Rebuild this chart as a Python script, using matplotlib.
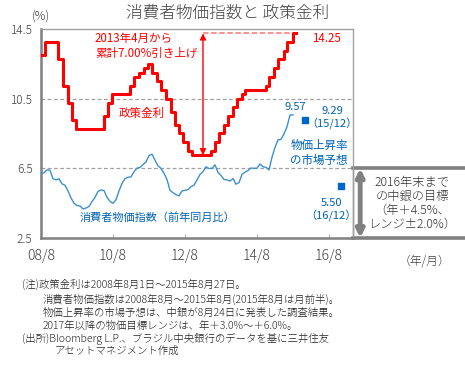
import matplotlib
matplotlib.use("Agg")
import matplotlib.pyplot as plt

plt.rcParams['font.family'] = ['Noto Sans CJK JP', 'DejaVu Sans']

# Brazil policy rate (Selic): change dates and levels
rate_dates = [(2008, 8, 1), (2008, 9, 10), (2009, 1, 21), (2009, 3, 11), (2009, 4, 29),
              (2009, 6, 10), (2009, 7, 22), (2010, 4, 28), (2010, 6, 9), (2010, 7, 21),
              (2011, 1, 19), (2011, 3, 2), (2011, 4, 20), (2011, 6, 8), (2011, 7, 20),
              (2011, 8, 31), (2011, 10, 19), (2011, 11, 30), (2012, 1, 18), (2012, 3, 7),
              (2012, 4, 18), (2012, 5, 30), (2012, 7, 11), (2012, 8, 29), (2012, 10, 10),
              (2013, 4, 17), (2013, 5, 29), (2013, 7, 10), (2013, 8, 28), (2013, 10, 9),
              (2013, 11, 27), (2014, 1, 15), (2014, 2, 26), (2014, 4, 2), (2014, 10, 29),
              (2014, 12, 3), (2015, 1, 21), (2015, 3, 4), (2015, 4, 29), (2015, 6, 3),
              (2015, 7, 29), (2015, 8, 27)]
rate_vals = [13.00, 13.75, 12.75, 11.25, 10.25, 9.25, 8.75, 9.50, 10.25, 10.75,
             11.25, 11.75, 12.00, 12.25, 12.50, 12.00, 11.50, 11.00, 10.50, 9.75,
             9.00, 8.50, 8.00, 7.50, 7.25, 7.50, 8.00, 8.50, 9.00, 9.50,
             10.00, 10.50, 10.75, 11.00, 11.25, 11.75, 12.25, 12.75, 13.25, 13.75,
             14.25, 14.25]

# CPI (IPCA, yoy %) monthly from 2008/8 to 2015/8
cpi_vals = [6.17, 6.25, 6.41, 6.39, 5.90,
            5.84, 5.90, 5.61, 5.53, 5.20, 4.80, 4.50, 4.36, 4.34, 4.17, 4.22, 4.31,
            4.59, 4.83, 5.17, 5.26, 5.22, 4.84, 4.60, 4.49, 4.70, 5.20, 5.63, 5.91,
            5.99, 6.01, 6.30, 6.51, 6.55, 6.71, 6.87, 7.23, 7.31, 6.97, 6.64, 6.50,
            6.22, 5.85, 5.24, 5.10, 4.99, 4.92, 5.20, 5.24, 5.28, 5.45, 5.53, 5.84,
            6.15, 6.31, 6.59, 6.49, 6.50, 6.70, 6.27, 6.09, 5.86, 5.84, 5.77, 5.91,
            5.59, 5.68, 6.15, 6.28, 6.37, 6.52, 6.50, 6.51, 6.75, 6.59, 6.56, 6.41,
            7.14, 7.70, 8.13, 8.17, 8.47, 8.89, 9.56, 9.57]

# market forecasts
fc_dates = [(2015, 12, 1), (2016, 12, 1)]
fc_vals = [9.29, 5.50]

x_ticks = [(2008, 8, 1), (2010, 8, 1), (2012, 8, 1), (2014, 8, 1), (2016, 8, 1)]
x_labels = ['08/8', '10/8', '12/8', '14/8', '16/8']
y_ticks = [2.5, 6.5, 10.5, 14.5]

target_lo, target_hi = 2.5, 6.5
hike_from, hike_to = 7.25, 14.25


def mon(d):
    y, m, dd = d
    return (y - 2008) * 12 + (m - 8) + (dd - 1) / 30.0


W, H = 465, 365
fig = plt.figure(figsize=(W / 100, H / 100), dpi=100)
ax = fig.add_axes([41 / W, 1 - 238 / H, 312 / W, 209 / H])

red = '#ff0000'
blue = '#0062b4'
gray = '#808080'
txt = '#404040'
lt = 'light'

rx = [mon(d) for d in rate_dates]
ax.step(rx, rate_vals, where='post', color=red, lw=2.2, zorder=4)

cx = list(range(len(cpi_vals)))
ax.plot(cx, cpi_vals, color='#3d8fd0', lw=1.0, zorder=3)

fx = [mon(d) for d in fc_dates]
ax.scatter(fx, fc_vals, marker='s', s=22, color='#0066cc', zorder=5)

ax.set_xlim(0, 104)
ax.set_ylim(2.5, 14.5)
ax.set_xticks([mon(d) for d in x_ticks])
ax.set_xticklabels(x_labels, fontweight=lt)
ax.set_yticks(y_ticks)
ax.set_yticklabels([str(v) for v in y_ticks], fontweight=lt)
ax.tick_params(axis='x', direction='in', length=3, color='#aaaaaa', labelsize=10,
               labelcolor=txt, pad=8)
ax.tick_params(axis='y', length=0, labelsize=8.5, labelcolor=txt, pad=6)

for yv in [6.5, 10.5]:
    ax.axhline(yv, color='#a0a0a0', lw=0.9, ls=(0, (3, 2)), zorder=1)

for s in ['left', 'bottom']:
    ax.spines[s].set_color(gray)
    ax.spines[s].set_linewidth(1.8)
for s in ['top', 'right']:
    ax.spines[s].set_color('#a0a0a0')
    ax.spines[s].set_linewidth(1.0)
    ax.spines[s].set_linestyle((0, (1, 1)))

# cumulative hike arrow and dashed level
arrow_x = 54
ax.plot([arrow_x, rx[-1]], [hike_to, hike_to], color='#ff8888', lw=1.3,
        ls=(0, (3, 1.5)), zorder=3)
ax.annotate('', xy=(arrow_x, hike_to), xytext=(arrow_x, hike_from),
            arrowprops=dict(arrowstyle='<|-|>', color=red, lw=1.0,
                            mutation_scale=9, shrinkA=0, shrinkB=0), zorder=5)

# target band outside the plot
xr = 141.5
for yv in [target_lo, target_hi]:
    ax.plot([104, xr], [yv, yv], color=gray, lw=2.6, clip_on=False, zorder=2)
ax.plot([104, 104], [target_lo, target_hi], color=gray, lw=1.0, clip_on=False)
ax.annotate('', xy=(106.4, target_hi), xytext=(106.4, target_lo),
            arrowprops=dict(arrowstyle='<|-|>', color=gray, lw=3.5,
                            mutation_scale=11, shrinkA=0, shrinkB=0),
            annotation_clip=False)
fig.text(412 / W, 1 - 203 / H, '2016年末まで\nの中銀の目標\n（年＋4.5%、\nレンジ±2.0%）',
         ha='center', va='center', fontsize=8.8, color='#333333', linespacing=1.1,
         fontweight=lt)

# labels
fig.text(228 / W, 1 - 13 / H, '消費者物価指数と 政策金利', ha='center', va='center',
         fontsize=12, color=txt, fontweight=lt)
fig.text(41 / W, 1 - 16 / H, '(%)', ha='center', va='center', fontsize=8.5, color=txt,
         fontweight=lt)
fig.text(424 / W, 1 - 261 / H, '（年/月）', ha='center', va='center', fontsize=8.5,
         color=txt, fontweight=lt)

fig.text(95 / W, 1 - 46 / H, '2013年4月から\n累計7.00%引き上げ', ha='left', va='center',
         fontsize=8.3, color=red, linespacing=1.15)
fig.text(326 / W, 1 - 38 / H, '14.25', ha='center', va='center', fontsize=8.3, color=red)
fig.text(142 / W, 1 - 113 / H, '政策金利', ha='center', va='center', fontsize=8.3, color=red)

fig.text(157 / W, 1 - 218 / H, '消費者物価指数（前年同月比）', ha='center', va='center',
         fontsize=8, color=blue)
fig.text(295 / W, 1 - 107 / H, '9.57', ha='center', va='center', fontsize=8, color=blue)
fig.text(332 / W, 1 - 118 / H, '9.29\n（15/12）', ha='center', va='center', fontsize=8,
         color=blue, linespacing=1.15)
fig.text(319 / W, 1 - 153 / H, '物価上昇率\nの市場予想', ha='center', va='center',
         fontsize=8.3, color=blue, linespacing=1.15)
fig.text(331 / W, 1 - 210 / H, '5.50\n（16/12）', ha='center', va='center', fontsize=8,
         color=blue, linespacing=1.15)

notes = [
    (22, 285, '(注)政策金利は2008年8月1日～2015年8月27日。'),
    (43, 300, '消費者物価指数は2008年8月～2015年8月(2015年8月は月前半)。'),
    (43, 313, '物価上昇率の市場予想は、中銀が8月24日に発表した調査結果。'),
    (43, 326, '2017年以降の物価目標レンジは、年＋3.0%～＋6.0%。'),
    (22, 339, '(出所)Bloomberg L.P.、ブラジル中央銀行のデータを基に三井住友'),
    (55, 351, 'アセットマネジメント作成'),
]
for px, py, s in notes:
    fig.text(px / W, 1 - py / H, s, ha='left', va='center', fontsize=7.5, color='#222222',
             fontweight=lt)

fig.savefig('out.png', dpi=100)
